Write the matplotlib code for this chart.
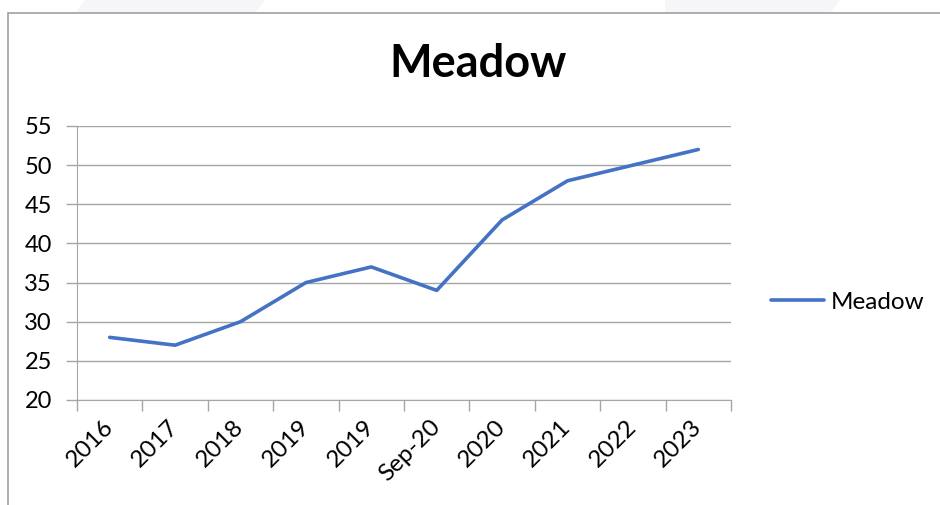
import matplotlib.pyplot as plt
from matplotlib.patches import Polygon, Rectangle

plt.rcParams['font.family'] = ['Lato', 'DejaVu Sans']

# datos
categorias = ['2016', '2017', '2018', '2019', '2019', 'Sep-20', '2020', '2021', '2022', '2023']
valores = [28, 27, 30, 35, 37, 34, 43, 48, 50, 52]
y_ticks = [20, 25, 30, 35, 40, 45, 50, 55]

W, H = 940, 505
fig = plt.figure(figsize=(W / 100, H / 100), dpi=100)

# fondo tenue fuera del marco (formas grises de la pagina)
for pts in ([(85, 0), (265, 0), (255, 13), (75, 13)], [(665, 0), (840, 0), (830, 13), (665, 13)]):
    fig.patches.append(Polygon([(x / W, 1 - y / H) for x, y in pts], closed=True,
                               transform=fig.transFigure, facecolor='#f6f6f8', edgecolor='none', zorder=0))

# marco del area del grafico
fig.patches.append(Rectangle((8 / W, -0.1), 1.1, 1 - 13 / H + 0.1, transform=fig.transFigure,
                             facecolor='white', edgecolor='#a0a0a0', linewidth=1.2, zorder=1))

# area de trazado
x0, x1, y_top, y_bot = 77, 731, 126, 400
ax = fig.add_axes([x0 / W, 1 - y_bot / H, (x1 - x0) / W, (y_bot - y_top) / H])
ax.set_zorder(2)
ax.patch.set_alpha(0)

fs = 17.5
pos = list(range(len(categorias)))
linea, = ax.plot(pos, valores, color='#4472c4', linewidth=2.6, solid_capstyle='round',
                 solid_joinstyle='round', label='Meadow')

ax.set_xlim(-0.5, len(categorias) - 0.5)
ax.set_ylim(20, 55)
ax.set_yticks(y_ticks)
ax.set_yticklabels([str(v) for v in y_ticks], fontsize=17)
ax.yaxis.grid(True, color='#a6a6a6', linewidth=1)
ax.set_axisbelow(True)

# marcas entre categorias
ax.set_xticks([p - 0.5 for p in pos] + [len(categorias) - 0.5])
ax.set_xticklabels([])
ax.set_xticks(pos, minor=True)
ax.set_xticklabels(categorias, minor=True, rotation=45, ha='right', va='center',
                   rotation_mode='anchor', fontsize=fs)
ax.tick_params(axis='x', which='major', length=8, color='#a6a6a6', width=1)
ax.tick_params(axis='x', which='minor', length=0, pad=17)
ax.tick_params(axis='y', length=8, color='#a6a6a6', width=1, pad=10)

for lado in ['top', 'right']:
    ax.spines[lado].set_visible(False)
ax.spines['left'].set_color('#a6a6a6')
ax.spines['bottom'].set_color('#a6a6a6')

fig.text(478 / W, 1 - 64 / H, 'Meadow', ha='center', va='center', fontsize=32.5,
         fontweight='bold', zorder=3)

fig.legend(handles=[linea], loc='center left', bbox_to_anchor=(749 / W, 1 - 302 / H),
           frameon=False, fontsize=fs, handlelength=2.2, handletextpad=0.25)

fig.savefig('out.png', dpi=100)
